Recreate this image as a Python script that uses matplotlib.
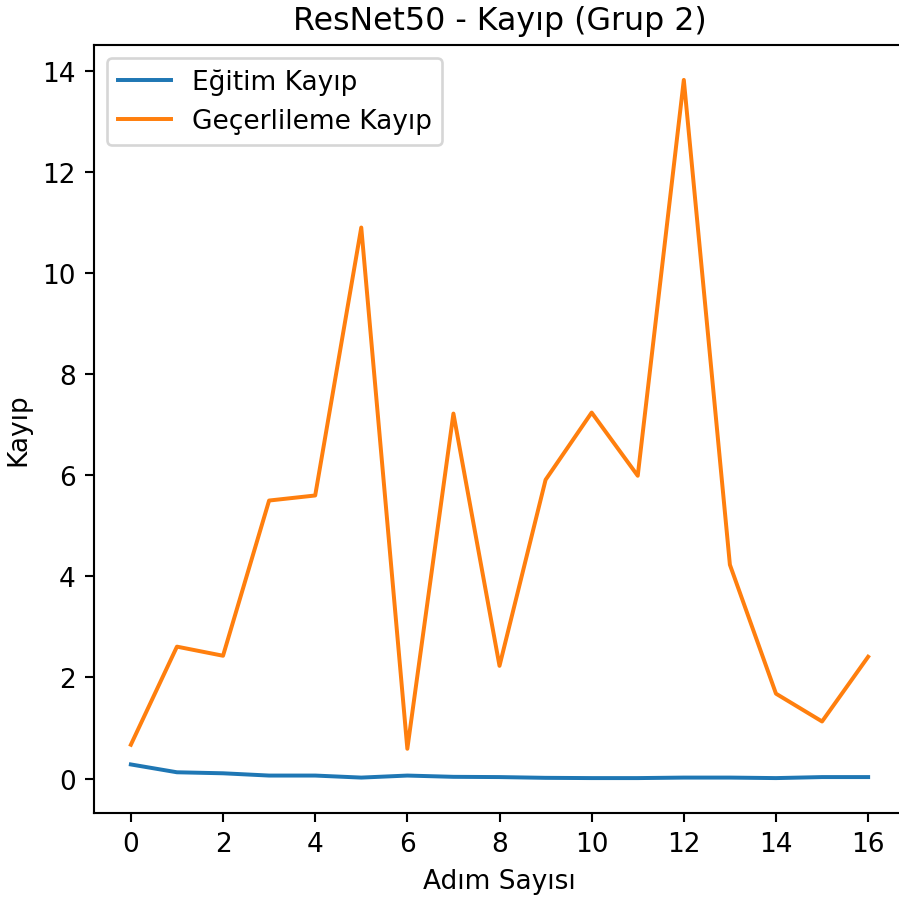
import numpy as np
import matplotlib
matplotlib.use("Agg")
import matplotlib.pyplot as plt

# adim sayisi
adim = list(range(17))

# egitim / gecerlileme kayip degerleri
egitim_kayip = [0.28, 0.125, 0.105, 0.06, 0.06, 0.02, 0.06, 0.035, 0.03, 0.015,
                0.01, 0.01, 0.02, 0.02, 0.01, 0.03, 0.03]
gecer_kayip = [0.67, 2.61, 2.43, 5.50, 5.60, 10.90, 0.59, 7.22, 2.23, 5.91,
               7.24, 5.99, 13.82, 4.23, 1.68, 1.13, 2.41]

W, H = 899, 900
DPI = 190
fig = plt.figure(figsize=(W / DPI, H / DPI), dpi=DPI)
ax = fig.add_axes([94 / W, 1 - 814 / H, (905 - 94) / W, (814 - 46) / H])

ax.plot(adim, egitim_kayip, label='Eğitim Kayıp')
ax.plot(adim, gecer_kayip, label='Geçerlileme Kayıp')
ax.set_xticks(range(0, 17, 2))
ax.set_title('ResNet50 - Kayıp (Grup 2)')
ax.set_xlabel('Adım Sayısı')
ax.set_ylabel('Kayıp')
ax.legend(loc='upper left')

fig.savefig('out.png', dpi=DPI)
